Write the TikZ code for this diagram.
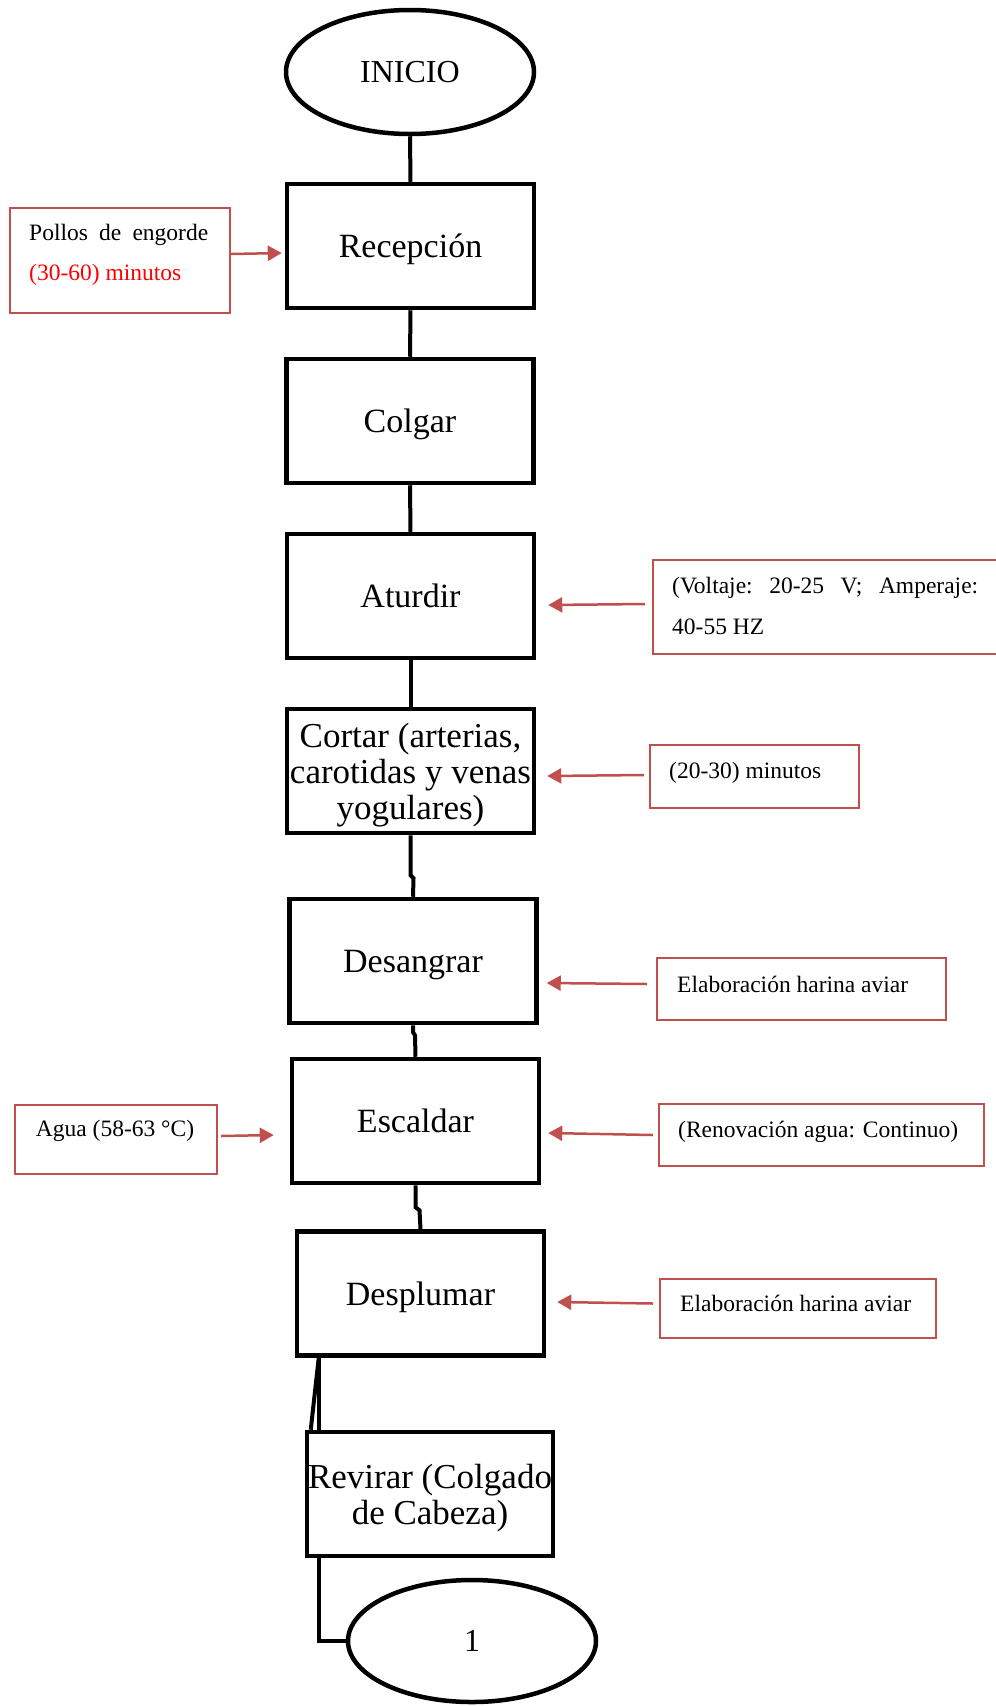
\documentclass[tikz,border=0pt]{standalone}
\usepackage{fontspec}
\setmainfont{Liberation Serif}
\usetikzlibrary{shapes.geometric,arrows.meta,calc}
\definecolor{redbox}{RGB}{192,80,77}
\begin{document}
\begin{tikzpicture}[x=1pt,y=-1pt,
  proc/.style={draw=black, line width=4.5pt, rectangle, minimum width=247pt, minimum height=124pt, inner sep=0pt, align=center, font=\fontsize{34}{36}\selectfont},
  single/.style={text height=23pt, text depth=0pt},
  term/.style={draw=black, ellipse, line width=4.5pt, minimum width=248pt, minimum height=124pt, inner sep=0pt, font=\fontsize{32}{36}\selectfont},
  notebox/.style={draw=redbox, line width=2pt, rectangle, inner sep=0pt, anchor=north west},
  ntext/.style={inner sep=0pt, font=\fontsize{23.5}{40}\selectfont, anchor=base west},
  link/.style={line width=4pt, draw=black},
  redarrow/.style={draw=redbox, line width=2.5pt, -{Triangle[length=14pt,width=15pt]}}
]
\fill[white] (0,0) rectangle (996,1706);
\useasboundingbox (0,0) rectangle (996,1706);

% main column
\node[term] (inicio) at (410,72) {INICIO};
\node[proc, single] (recep) at (410.5,246) {Recepción};
\node[proc, single] (colgar) at (410,421) {Colgar};
\node[proc, single] (aturdir) at (410.5,596) {Aturdir};
\node[proc, font=\fontsize{35}{36}\selectfont] (cortar) at (410.5,771) {\rule{0pt}{33pt}Cortar (arterias,\\carotidas y venas\\yogulares)};
\node[proc, single] (desangrar) at (413,961) {Desangrar};
\node[proc, single] (escaldar) at (415.5,1121) {Escaldar};
\node[proc, single] (desplumar) at (420.5,1293.5) {Desplumar};
\node[proc, minimum width=246pt, font=\fontsize{35}{36}\selectfont] (revirar) at (430,1494) {\rule{0pt}{32pt}Revirar (Colgado\\de Cabeza)};
\node[term, minimum height=122pt] (one) at (472,1641) {1};

% side note boxes
\node[notebox, minimum width=220pt, minimum height=105pt] (pollos) at (9,207) {};
\node[notebox, minimum width=350pt, minimum height=94pt] (volt) at (652,559) {};
\node[notebox, minimum width=209pt, minimum height=63pt] (t2030) at (649,744) {};
\node[notebox, minimum width=289pt, minimum height=62pt] (elab1) at (656,957) {};
\node[notebox, minimum width=325pt, minimum height=62pt] (renov) at (658,1103) {};
\node[notebox, minimum width=202pt, minimum height=69pt] (agua) at (14,1104) {};
\node[notebox, minimum width=276pt, minimum height=59pt] (elab2) at (659,1278) {};

% side note texts
\node[ntext] (pollos1) at (29,240) {\makebox[179pt]{Pollos\hfill de\hfill engorde}};
\node[ntext, text=red] (pollos2) at (29,280) {(30-60) minutos};
\node[ntext] (volt1) at (672,593) {\makebox[306pt]{(Voltaje:\hfill 20-25\hfill V;\hfill Amperaje:}};
\node[ntext] (volt2) at (672,634) {40-55 HZ};
\node[ntext] (t2030t) at (669,778) {(20-30) minutos};
\node[ntext] (elab1t) at (677,992) {Elaboración harina aviar};
\node[ntext] (renovt) at (678,1137) {(Renovación agua: Continuo)};
\node[ntext, anchor=base] (aguat) at (115,1136) {Agua (58-63 °C)};
\node[ntext] (elab2t) at (680,1311) {Elaboración harina aviar};

% black connectors
\draw[link] (inicio.south) -- (recep.north);
\draw[link] (recep.south) -- (colgar.north);
\draw[link] (colgar.south) -- (aturdir.north);
\draw[link] (aturdir.south) -- (cortar.north);
\draw[link] (cortar.south) -- ++(0,40) -- ++(3,3) -- (desangrar.north);
\draw[link] (desangrar.south) -- ++(0,7) -- ++(2,3) -- (escaldar.north);
\draw[link] (escaldar.south) -- ++(0,22) -- ++(4,3) -- (desplumar.north);
\coordinate (dsp) at ([xshift=24pt]desplumar.south west);
\draw[link] (dsp) -- ([xshift=14pt]revirar.north west);
\draw[link] (dsp) -- ([xshift=6pt]revirar.north west);
\draw[link] ([xshift=14pt]revirar.south west) |- (one.west);

% red arrows
\draw[redarrow] ([yshift=6.5pt]pollos.east) -- ([xshift=-3pt,yshift=-7pt]recep.west);
\draw[redarrow] ([xshift=-7pt,yshift=3pt]volt.west) -- ([xshift=12pt,yshift=-9pt]aturdir.east);
\draw[redarrow] ([xshift=-5pt,yshift=1.5pt]t2030.west) -- ([xshift=11pt,yshift=-5pt]cortar.east);
\draw[redarrow] ([xshift=-9pt,yshift=5pt]elab1.west) -- ([xshift=8pt,yshift=-22pt]desangrar.east);
\draw[redarrow] ([xshift=-5pt]renov.west) -- ([xshift=7pt,yshift=-12pt]escaldar.east);
\draw[redarrow] ([xshift=3pt,yshift=3.5pt]agua.east) -- ([xshift=-16pt,yshift=-14pt]escaldar.west);
\draw[redarrow] ([xshift=-6pt,yshift=5pt]elab2.west) -- ([xshift=11pt,yshift=-8.5pt]desplumar.east);
\end{tikzpicture}
\end{document}
